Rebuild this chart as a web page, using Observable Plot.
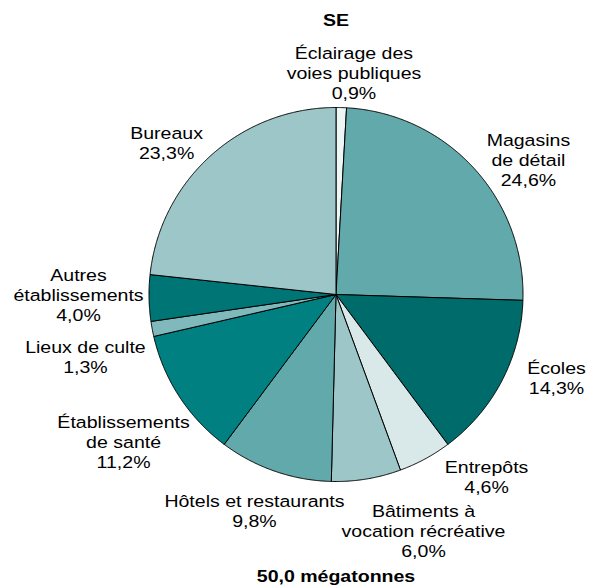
<!DOCTYPE html>
<html><head><meta charset="utf-8">
<script src="https://cdn.jsdelivr.net/npm/d3@7"></script>
<script src="https://cdn.jsdelivr.net/npm/@observablehq/plot@0.6"></script>
<style>body{margin:0;background:#fff} svg{display:block}</style>
</head><body><div id="chart"></div>
<script>
// ---- data ----
const categories = [
  "Éclairage des\nvoies publiques",
  "Magasins\nde détail",
  "Écoles",
  "Entrepôts",
  "Bâtiments à\nvocation récréative",
  "Hôtels et restaurants",
  "Établissements\nde santé",
  "Lieux de culte",
  "Autres\nétablissements",
  "Bureaux"
];
const shares = [0.9, 24.6, 14.3, 4.6, 6.0, 9.8, 11.2, 1.3, 4.0, 23.3];
const title = "SE";
const caption = "50,0 mégatonnes";

// ---- styles / layout ----
const colors = ["#eef5f5", "#62a9ab", "#006b6b", "#d9e9e9", "#9dc6c8", "#62a9ab", "#008080", "#80b9bb", "#007575", "#9dc6c8"];
const W = 594, H = 588, CX = 335.5, CY = 294, R = 187;
// label block centres, in units of the pie radius relative to its centre
const labelAnchors = [
  [0.096, 1.187], [1.029, 0.722], [1.179, -0.444], [0.805, -0.973], [0.468, -1.262],
  [-0.436, -1.155], [-1.136, -0.786], [-1.340, -0.332], [-1.377, 0.0], [-0.906, 0.813]
];

const fmt = v => v.toFixed(1).replace(".", ",") + "%";
const arcs = d3.pie().sort(null).value(d => d)(shares);
const points = [];
arcs.forEach((a, i) => {
  const cat = categories[i];
  points.push({cat, x: 0, y: 0});
  const n = Math.max(2, Math.ceil((a.endAngle - a.startAngle) / 0.005));
  for (let k = 0; k <= n; k++) {
    const t = a.startAngle + (a.endAngle - a.startAngle) * k / n;
    points.push({cat, x: Math.sin(t), y: Math.cos(t)});
  }
  points.push({cat, x: 0, y: 0});
});
const labelData = categories.map((c, i) => ({
  text: c + "\n" + fmt(shares[i]),
  x: labelAnchors[i][0],
  y: labelAnchors[i][1]
}));

const font = "Liberation Sans, Arial, Helvetica, sans-serif";
const chart = Plot.plot({
  width: W, height: H, margin: 0,
  style: {fontFamily: font, background: "#fff", color: "#000"},
  x: {domain: [-CX / R, (W - CX) / R], axis: null},
  y: {domain: [-(H - CY) / R, CY / R], axis: null},
  color: {domain: categories, range: colors},
  marks: [
    Plot.line(points, {x: "x", y: "y", z: "cat", fill: "cat", stroke: "#000", strokeWidth: 1, strokeLinejoin: "round", curve: "linear"}),
    Plot.text(labelData, {x: "x", y: "y", text: "text", fontSize: 17, lineHeight: 1.2, lineAnchor: "middle", textAnchor: "middle", fill: "#000"}),
    Plot.text([title], {x: () => 0, frameAnchor: "top", dy: 20, text: d => d, fontSize: 17, fontWeight: "bold", lineAnchor: "middle", fill: "#000"}),
    Plot.text([caption], {x: () => 0, frameAnchor: "bottom", dy: -12, text: d => d, fontSize: 17, fontWeight: "bold", lineAnchor: "middle", fill: "#000"})
  ]
});
d3.select(chart).selectAll("text").each(function() {
  const t = this.getAttribute("transform") || "";
  this.setAttribute("transform", t + " scale(1.15,1)");
});
document.getElementById("chart").appendChild(chart);
</script>
</body></html>
